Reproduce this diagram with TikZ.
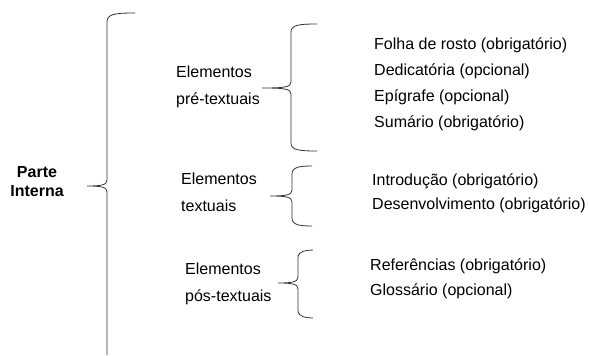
\documentclass[tikz,border=0pt]{standalone}
\usepackage{fontspec}
\setmainfont{Liberation Sans}
\usetikzlibrary{positioning}

\tikzset{
  chave/.style={draw=black!80, line width=0.8pt},
  parte/.style={inner sep=0pt, align=center, font=\fontsize{16}{19}\selectfont\bfseries},
  rotulo/.style={anchor=west, inner sep=0pt, align=left, font=\fontsize{16}{27}\selectfont},
  item/.style={anchor=west, inner sep=0pt, font=\fontsize{16}{19}\selectfont},
}

% chave: x da vertical, y topo, y meio, y base, x ponta, x das pontas
\newcommand{\chavedir}[6]{%
  \draw[chave] (#6,#2) .. controls ({#1+8},#2) and (#1,{#2+1}) .. (#1,{#2+8})
    -- (#1,{#3-6}) .. controls (#1,{#3-1}) and ({#1-6},#3) .. (#5,#3)
    .. controls ({#1-6},#3) and (#1,{#3+1}) .. (#1,{#3+6})
    -- (#1,{#4-8}) .. controls (#1,{#4-1}) and ({#1+8},#4) .. (#6,#4);}

\begin{document}
\begin{tikzpicture}[x=1pt,y=-1pt]
  \useasboundingbox (0,0) rectangle (589,356);

  \node[parte] (parte) at (37,182) {Parte\\Interna};

  % chave grande
  \draw[chave] (135,13) .. controls (115,13) and (107,14) .. (107,22)
    -- (107,180) .. controls (107,185) and (101,186) .. (87,186)
    .. controls (101,186) and (107,187) .. (107,192) -- (107,355);

  \node[rotulo] (pre) at (176,87) {Elementos\\pré-textuais};
  \node[rotulo] (txt) at (181,192) {Elementos\\textuais};
  \node[rotulo] (pos) at (185,284) {Elementos\\pós-textuais};

  \chavedir{291}{24}{88}{151}{262}{317}
  \chavedir{292}{166}{196}{226}{270}{312}
  \chavedir{298}{250}{283}{318}{278}{313}

  \node[item] (folha) at (374,45) {Folha de rosto (obrigatório)};
  \node[item] (dedic) at (374,71) {Dedicatória (opcional)};
  \node[item] (epig) at (374,97) {Epígrafe (opcional)};
  \node[item] (sum) at (374,123) {Sumário (obrigatório)};

  \node[item] (intro) at (372,181) {Introdução (obrigatório)};
  \node[item] (desenv) at (372,205) {Desenvolvimento (obrigatório)};

  \node[item] (ref) at (370,266) {Referências (obrigatório)};
  \node[item] (glos) at (370,291) {Glossário (opcional)};
\end{tikzpicture}
\end{document}
